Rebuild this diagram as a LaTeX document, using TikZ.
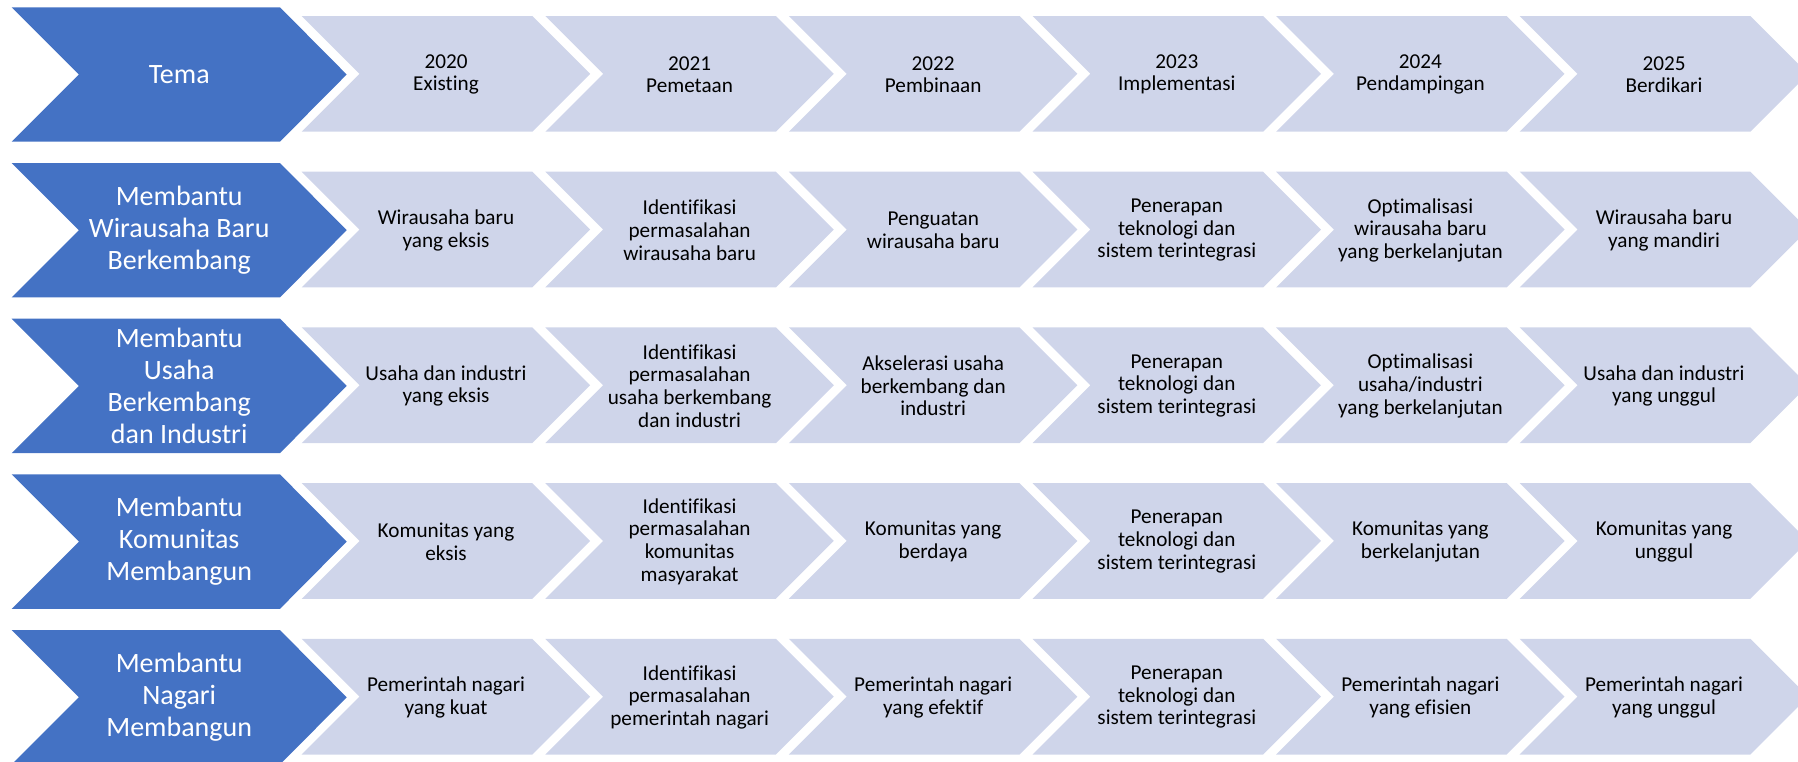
\documentclass[tikz,border=0pt]{standalone}
\usepackage{fontspec}
\setmainfont{Carlito}[Ligatures={NoCommon}]
\definecolor{bluefill}{HTML}{4472C4}
\definecolor{lightfill}{HTML}{CFD5EA}
\begin{document}
\begin{tikzpicture}[x=1pt,y=-1pt,
  bluechev/.style={fill=bluefill},
  lightchev/.style={fill=lightfill},
  btext/.style={text=white,font=\fontsize{28}{32}\selectfont,align=center,inner sep=0pt},
  ltext/.style={text=black,font=\fontsize{21.2}{22.6}\selectfont,align=center,inner sep=0pt}]
\useasboundingbox (0,0) rectangle (1798,761);
\clip (0,0) rectangle (1798,761);
\foreach \r in {0,...,4}{
  \pgfmathsetmacro{\T}{7.3+155.7*\r}
  \path[bluechev] (11.7,\T) -- (280,\T) -- (346.7,\T+67.2) -- (280,\T+134.4)
     -- (11.7,\T+134.4) -- (78.9,\T+67.2) -- cycle;
  \foreach \i in {0,...,5}{
    \pgfmathsetmacro{\X}{301.7+243.6*\i}
    \pgfmathsetmacro{\t}{\T+8.7}
    \path[lightchev] (\X,\t) -- (\X+230.6,\t) -- (\X+288.45,\t+57.85) -- (\X+230.6,\t+115.7)
       -- (\X,\t+115.7) -- (\X+57.85,\t+57.85) -- cycle;
  }
}
% row 1
\node[btext] (b1) at (179.2,74.5) {Tema};
\node[ltext] (c11) at (446,74.5) {2020\\Existing};
\node[ltext] (c12) at (689.6,74.5) {2021\\Pemetaan};
\node[ltext] (c13) at (933.2,74.5) {2022\\Pembinaan};
\node[ltext] (c14) at (1176.8,74.5) {2023\\Implementasi};
\node[ltext] (c15) at (1420.4,74.5) {2024\\Pendampingan};
\node[ltext] (c16) at (1664,74.5) {2025\\Berdikari};
% row 2
\node[btext] (b2) at (179.2,230.2) {Membantu\\Wirausaha Baru\\Berkembang};
\node[ltext] (c21) at (446,230.2) {Wirausaha baru\\yang eksis};
\node[ltext] (c22) at (689.6,230.2) {Identifikasi\\permasalahan\\wirausaha baru};
\node[ltext] (c23) at (933.2,230.2) {Penguatan\\wirausaha baru};
\node[ltext] (c24) at (1176.8,230.2) {Penerapan\\teknologi dan\\sistem terintegrasi};
\node[ltext] (c25) at (1420.4,230.2) {Optimalisasi\\wirausaha baru\\yang berkelanjutan};
\node[ltext] (c26) at (1664,230.2) {Wirausaha baru\\yang mandiri};
% row 3
\node[btext] (b3) at (179.2,385.9) {Membantu\\Usaha\\Berkembang\\dan Industri};
\node[ltext] (c31) at (446,385.9) {Usaha dan industri\\yang eksis};
\node[ltext] (c32) at (689.6,385.9) {Identifikasi\\permasalahan\\usaha berkembang\\dan industri};
\node[ltext] (c33) at (933.2,385.9) {Akselerasi usaha\\berkembang dan\\industri};
\node[ltext] (c34) at (1176.8,385.9) {Penerapan\\teknologi dan\\sistem terintegrasi};
\node[ltext] (c35) at (1420.4,385.9) {Optimalisasi\\usaha/industri\\yang berkelanjutan};
\node[ltext] (c36) at (1664,385.9) {Usaha dan industri\\yang unggul};
% row 4
\node[btext] (b4) at (179.2,541.6) {Membantu\\Komunitas\\Membangun};
\node[ltext] (c41) at (446,541.6) {Komunitas yang\\eksis};
\node[ltext] (c42) at (689.6,541.6) {Identifikasi\\permasalahan\\komunitas\\masyarakat};
\node[ltext] (c43) at (933.2,541.6) {Komunitas yang\\berdaya};
\node[ltext] (c44) at (1176.8,541.6) {Penerapan\\teknologi dan\\sistem terintegrasi};
\node[ltext] (c45) at (1420.4,541.6) {Komunitas yang\\berkelanjutan};
\node[ltext] (c46) at (1664,541.6) {Komunitas yang\\unggul};
% row 5
\node[btext] (b5) at (179.2,697.3) {Membantu\\Nagari\\Membangun};
\node[ltext] (c51) at (446,697.3) {Pemerintah nagari\\yang kuat};
\node[ltext] (c52) at (689.6,697.3) {Identifikasi\\permasalahan\\pemerintah nagari};
\node[ltext] (c53) at (933.2,697.3) {Pemerintah nagari\\yang efektif};
\node[ltext] (c54) at (1176.8,697.3) {Penerapan\\teknologi dan\\sistem terintegrasi};
\node[ltext] (c55) at (1420.4,697.3) {Pemerintah nagari\\yang efisien};
\node[ltext] (c56) at (1664,697.3) {Pemerintah nagari\\yang unggul};
\end{tikzpicture}
\end{document}
